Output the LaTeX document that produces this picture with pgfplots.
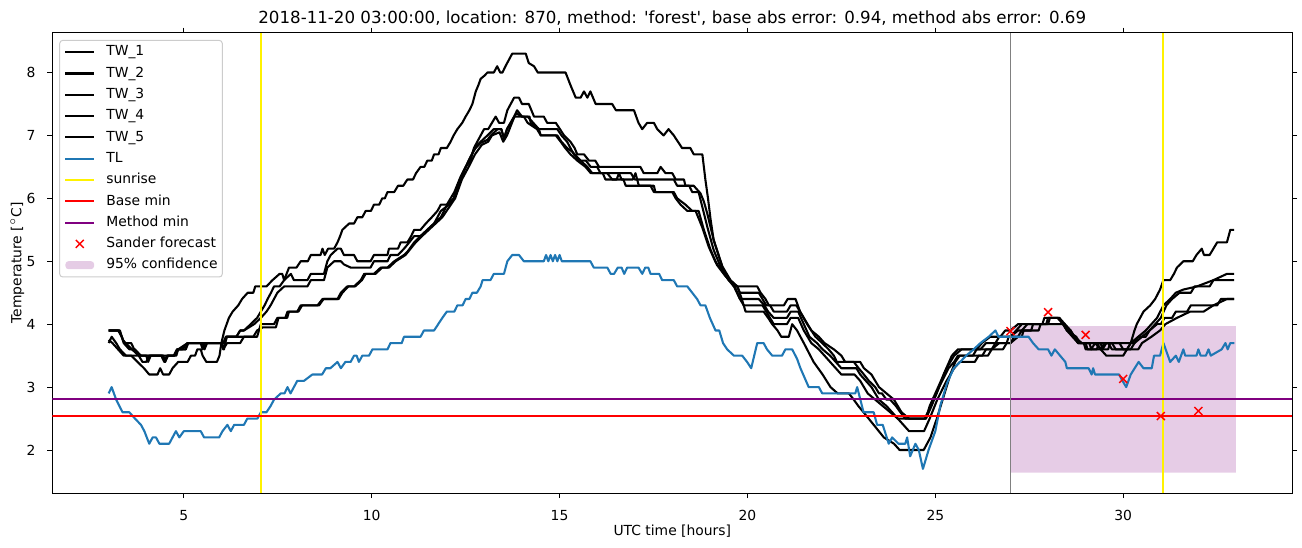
\documentclass[border=0pt]{standalone}
\usepackage{fontspec}
\setmainfont{DejaVu Sans}
\usepackage{pgfplots}
\pgfplotsset{compat=1.18}
\definecolor{tlblue}{RGB}{31,119,180}
\definecolor{mplpurple}{RGB}{128,0,128}
\definecolor{mplgray}{RGB}{128,128,128}
\definecolor{legframe}{RGB}{204,204,204}
\newcommand{\fs}{\fontsize{6.94}{8.3}\selectfont}
\pgfplotsset{conflegend/.style={legend image code/.code={\fill[##1] (0pt,-2pt) rectangle (14.3pt,2pt);}}}
\begin{document}
\begin{tikzpicture}
\begin{axis}[
  at={(0,0)}, anchor=south west,
  scale only axis, width=620pt, height=230.4pt,
  xmin=1.5, xmax=34.5, ymin=1.312, ymax=8.636,
  xtick={5,10,15,20,25,30}, ytick={2,3,4,5,6,7,8},
  tick align=outside, major tick length=2.43pt,
  every tick/.style={black, line width=0.4pt},
  axis line style={line width=0.4pt},
  /pgf/number format/assume math mode=true,
  tick label style={font=\fs},
  xticklabel style={yshift=-2.43pt},
  yticklabel style={xshift=-2.43pt},
  every axis title shift=0pt,
  title={2018-11-20 03:00:00, location: 870, method: \textquotesingle forest\textquotesingle, base abs error: 0.94, method abs error: 0.69},
  title style={font=\fontsize{8.33}{10}\selectfont, at={([yshift=7.25pt]axis description cs:0.5,1)}, anchor=center},
  xlabel={UTC time [hours]},
  ylabel={Temperature [$^\circ$C]},
  xlabel style={font=\fs, at={([yshift=-18.85pt]axis description cs:0.5,0)}, anchor=center},
  ylabel style={font=\fs, at={([xshift=-17.5pt]axis description cs:0,0.5)}, anchor=center},
  legend cell align=left,
  legend image code/.code={\draw[mark repeat=2,mark phase=2,#1] plot coordinates {(0pt,0pt) (7.15pt,0pt) (14.3pt,0pt)};},
  legend style={at={(axis description cs:0.0056,0.984)}, anchor=north west,
    draw=legframe, line width=0.5pt, rounded corners=1.5pt,
    fill=white, fill opacity=0.8, draw opacity=1, text opacity=1,
    font=\fs, inner xsep=2.35pt, inner ysep=2.5pt, row sep=3.85pt,
    nodes={inner sep=0pt, text height=5.3pt, text depth=1.5pt},
    /tikz/every odd column/.append style={column sep=5.6pt}},
  every axis plot/.append style={line join=round},
]
% confidence band (drawn first, below)
\addplot[draw=none, fill=mplpurple, fill opacity=0.2, forget plot] coordinates {(27,1.64) (33,1.64) (33,3.97) (27,3.97) (27,1.64)};

% TW_1
\addplot[black, line width=1.04pt] coordinates {
(3.0,3.7)(3.08,3.8)(3.2,3.7)(3.3,3.6)(3.46,3.5)(3.6,3.5)(3.77,3.4)(3.94,3.3)(4.08,3.2)(4.3,3.2)(4.37,3.3)(4.45,3.2)(4.61,3.2)(4.7,3.3)(4.85,3.4)(5.1,3.4)(5.19,3.5)(5.3,3.5)(5.36,3.6)(5.45,3.6)(5.5,3.5)(5.6,3.4)(5.88,3.4)(5.95,3.5)(6.0,3.7)(6.08,3.9)(6.14,4.0)(6.2,4.1)(6.3,4.2)(6.45,4.3)(6.55,4.4)(6.7,4.5)(6.85,4.5)(6.9,4.6)(7.2,4.6)(7.36,4.7)(7.55,4.8)(7.62,4.8)(7.67,4.7)(7.8,4.9)(8.0,4.9)(8.11,5.0)(8.3,5.0)(8.38,5.1)(8.64,5.1)(8.69,5.2)(8.75,5.1)(8.84,5.2)(9.0,5.2)(9.09,5.3)(9.16,5.4)(9.22,5.5)(9.4,5.6)(9.53,5.6)(9.62,5.7)(9.75,5.7)(9.84,5.8)(9.98,5.8)(10.06,5.9)(10.2,5.9)(10.28,6.0)(10.35,6.0)(10.42,6.1)(10.6,6.1)(10.7,6.2)(10.84,6.2)(10.95,6.3)(11.1,6.3)(11.18,6.4)(11.3,6.5)(11.4,6.5)(11.48,6.6)(11.6,6.6)(11.66,6.7)(11.78,6.7)(11.84,6.8)(12.0,6.8)(12.1,6.9)(12.18,7.0)(12.28,7.1)(12.41,7.2)(12.5,7.3)(12.6,7.4)(12.68,7.5)(12.77,7.7)(12.84,7.8)(12.9,7.9)(13.0,7.95)(13.08,8.0)(13.25,8.0)(13.34,8.1)(13.42,8.0)(13.48,8.0)(13.56,8.1)(13.65,8.2)(13.74,8.3)(14.1,8.3)(14.18,8.15)(14.32,8.1)(14.42,8.0)(15.16,8.0)(15.29,7.8)(15.43,7.6)(15.56,7.6)(15.65,7.7)(15.74,7.6)(15.82,7.7)(15.96,7.5)(16.4,7.5)(16.5,7.4)(16.98,7.4)(17.1,7.2)(17.2,7.1)(17.33,7.2)(17.51,7.2)(17.6,7.1)(17.77,7.0)(17.9,7.1)(18.04,7.0)(18.26,6.8)(18.48,6.8)(18.57,6.7)(18.8,6.7)(18.88,6.3)(18.95,6.0)(19.02,5.66)(19.1,5.34)(19.24,5.08)(19.37,4.84)(19.5,4.7)(19.64,4.6)
(20.26,4.6)(20.35,4.5)(20.48,4.4)(20.57,4.3)(20.97,4.3)(21.07,4.4)(21.28,4.4)(21.4,4.2)(21.59,4.0)(21.7,3.9)(21.81,3.8)(21.99,3.7)(22.16,3.6)(22.3,3.5)(22.38,3.4)(22.83,3.4)(22.96,3.3)(23.1,3.2)(23.23,3.1)(23.4,3.0)(23.5,2.9)(23.58,2.9)(23.7,2.8)(23.8,2.8)(23.95,2.7)(24.07,2.6)(24.2,2.5)(24.72,2.5)(24.8,2.6)(24.96,2.8)(25.1,3.0)(25.22,3.2)(25.44,3.5)(25.6,3.6)(26.1,3.6)(26.24,3.7)(26.46,3.8)(26.73,3.8)(26.86,3.9)
(27.0,3.9)(27.2,4.0)(27.85,4.0)(27.9,4.1)(28.3,4.1)(28.45,4.0)(28.6,3.9)(28.7,3.8)(28.9,3.7)(29.3,3.7)(29.4,3.6)(29.55,3.5)(30.0,3.5)(30.1,3.6)(30.2,3.7)(30.3,3.9)(30.36,4.0)(30.45,4.1)(30.54,4.2)(30.72,4.3)(30.85,4.4)(30.98,4.55)(31.07,4.7)(31.25,4.7)(31.35,4.8)(31.43,4.9)(31.6,5.0)(31.85,5.0)(31.95,5.1)(32.09,5.2)(32.15,5.1)(32.3,5.1)(32.4,5.2)(32.5,5.3)(32.76,5.3)(32.85,5.5)(32.95,5.5)
};
\addlegendentry{TW\_1}

% TW_2
\addplot[black, line width=1.04pt] coordinates {
(3.0,3.9)(3.3,3.9)(3.4,3.7)(3.55,3.6)(3.7,3.6)(3.85,3.5)(4.75,3.5)(4.82,3.6)(5.05,3.6)(5.1,3.7)(6.05,3.7)(6.12,3.8)(6.4,3.8)(6.5,3.9)(6.6,3.9)(6.78,4.0)(6.95,4.1)(7.05,4.2)(7.15,4.3)(7.23,4.4)(7.32,4.5)(7.4,4.6)(7.55,4.6)(7.67,4.7)(7.85,4.8)(7.93,4.7)(8.29,4.7)(8.38,4.8)(8.73,4.8)(8.82,5.0)(8.91,5.1)(9.09,5.2)(9.18,5.2)(9.26,5.1)(9.53,5.1)(9.62,5.0)(9.97,5.0)(10.06,5.1)(10.42,5.1)(10.46,5.2)(10.7,5.2)(10.77,5.3)(10.95,5.3)(11.05,5.4)(11.13,5.5)(11.3,5.5)(11.44,5.6)(11.6,5.7)(11.75,5.8)(11.84,5.9)(12.0,5.9)(12.1,6.0)(12.2,6.1)(12.37,6.35)(12.5,6.5)(12.63,6.6)(12.72,6.8)(12.81,6.9)(12.99,7.1)(13.1,7.1)(13.2,7.2)(13.3,7.3)(13.39,7.2)(13.52,7.2)(13.61,7.4)(13.79,7.6)(13.92,7.6)(14.0,7.5)(14.18,7.5)(14.32,7.3)(14.58,7.3)(14.67,7.2)(14.9,7.2)(15.12,7.0)(15.29,6.9)(15.4,6.8)(15.47,6.7)(15.65,6.7)(15.78,6.6)(15.95,6.6)(16.05,6.5)(17.15,6.5)(17.24,6.4)(17.6,6.4)(17.69,6.5)(17.82,6.4)(18.0,6.4)(18.09,6.3)(18.31,6.3)(18.35,6.2)(18.57,6.2)(18.75,6.08)(18.84,5.95)(18.93,5.76)(19.1,5.34)(19.33,4.92)(19.55,4.7)(19.73,4.6)
(19.8,4.5)(20.3,4.5)(20.4,4.4)(20.5,4.3)(20.6,4.3)(20.7,4.2)(21.05,4.2)(21.15,4.3)(21.3,4.3)(21.5,4.1)(21.7,3.9)(21.9,3.8)(22.05,3.7)(22.3,3.6)(22.5,3.5)(22.6,3.4)(23.0,3.4)(23.1,3.3)(23.3,3.2)(23.5,3.0)(23.7,2.9)(23.9,2.8)(24.1,2.6)(24.3,2.5)(24.75,2.5)(24.85,2.7)(25.0,2.9)(25.3,3.3)(25.5,3.5)(25.7,3.6)(26.2,3.6)(26.35,3.7)(26.6,3.7)(26.7,3.8)
(27.0,3.8)(27.15,3.9)(27.3,4.0)(27.95,4.0)(28.0,4.1)(28.25,4.1)(28.4,4.0)(28.55,3.9)(28.7,3.8)(28.8,3.7)(29.1,3.7)(29.15,3.6)(29.25,3.7)(29.4,3.6)(29.5,3.7)(29.7,3.7)(29.8,3.6)(30.1,3.6)(30.2,3.7)(30.4,3.8)(30.6,3.9)(30.75,4.0)(30.9,4.1)(31.07,4.3)(31.25,4.4)(31.4,4.5)(31.6,4.55)(31.96,4.6)(32.4,4.7)(32.76,4.8)(32.95,4.8)
};
\addlegendentry{TW\_2}

% TW_3
\addplot[black, line width=1.04pt] coordinates {
(3.0,3.9)(3.25,3.9)(3.35,3.8)(3.41,3.7)(3.6,3.7)(3.68,3.6)(3.86,3.5)(4.0,3.5)(4.05,3.4)(4.12,3.5)(4.45,3.5)(4.5,3.4)(4.57,3.5)(4.73,3.5)(4.82,3.6)(4.95,3.6)(5.1,3.7)(5.45,3.7)(5.5,3.6)(5.57,3.7)(6.0,3.7)(6.07,3.6)(6.12,3.8)(6.4,3.8)(6.5,3.9)(6.6,3.9)(6.87,4.0)(7.05,4.1)(7.2,4.2)(7.31,4.3)(7.4,4.4)(7.49,4.5)(7.67,4.6)(8.29,4.6)(8.38,4.7)(8.73,4.7)(8.82,4.9)(9.0,5.0)(9.18,5.0)(9.26,4.95)(9.44,4.9)(9.97,4.9)(10.06,5.0)(10.42,5.0)(10.5,5.1)(10.7,5.1)(10.86,5.2)(11.0,5.3)(11.13,5.4)(11.3,5.4)(11.48,5.5)(11.66,5.6)(11.75,5.7)(11.84,5.8)(12.06,5.9)(12.18,6.0)(12.28,6.2)(12.46,6.45)(12.63,6.66)(12.81,6.85)(13.08,7.0)(13.25,7.1)(13.45,7.1)(13.52,6.95)(13.6,7.1)(13.79,7.3)(13.87,7.4)(14.0,7.3)(14.2,7.3)(14.23,7.2)(14.45,7.1)(14.94,7.1)(15.05,7.0)(15.2,6.9)(15.38,6.7)(15.52,6.6)(15.7,6.6)(15.83,6.5)(16.0,6.5)(16.09,6.4)(16.9,6.4)(17.0,6.3)(18.04,6.3)(18.13,6.2)(18.45,6.2)(18.53,6.1)(18.7,6.1)(18.75,5.98)(18.93,5.55)(19.1,5.18)(19.28,4.92)(19.46,4.76)(19.64,4.6)
(19.8,4.4)(20.3,4.4)(20.45,4.3)(20.55,4.2)(20.7,4.1)(21.05,4.1)(21.15,4.2)(21.35,4.2)(21.5,4.0)(21.65,3.8)(21.85,3.7)(22.0,3.6)(22.2,3.5)(22.35,3.4)(22.5,3.3)(22.9,3.3)(23.0,3.2)(23.15,3.1)(23.3,3.0)(23.5,2.8)(23.7,2.7)(23.85,2.6)(24.0,2.5)(24.15,2.4)(24.3,2.3)(24.7,2.3)(24.85,2.5)(25.05,2.8)(25.3,3.1)(25.5,3.3)(25.65,3.4)(26.05,3.4)(26.15,3.5)(26.4,3.5)(26.5,3.6)(26.7,3.7)
(27.0,3.7)(27.2,3.8)(27.3,3.9)(27.45,4.0)(28.4,4.0)(28.5,3.9)(28.65,3.8)(28.8,3.7)(29.0,3.7)(29.05,3.6)(29.3,3.6)(29.35,3.7)(29.6,3.7)(29.7,3.6)(30.2,3.6)(30.3,3.7)(30.5,3.8)(30.7,3.9)(30.85,4.0)(31.0,4.1)(31.15,4.3)(31.3,4.4)(31.5,4.5)(31.8,4.5)(31.9,4.6)(32.3,4.6)(32.4,4.7)(32.95,4.7)
};
\addlegendentry{TW\_3}

% TW_4
\addplot[black, line width=1.04pt] coordinates {
(3.0,3.75)(3.1,3.7)(3.25,3.6)(3.4,3.5)(3.8,3.5)(3.9,3.4)(4.0,3.4)(4.08,3.5)(4.45,3.5)(4.5,3.4)(4.58,3.5)(4.8,3.5)(4.85,3.6)(5.1,3.7)(5.5,3.7)(5.55,3.6)(5.62,3.7)(6.0,3.7)(6.05,3.6)(6.15,3.7)(6.5,3.7)(6.6,3.8)(6.95,3.8)(7.05,4.0)(7.4,4.0)(7.49,4.1)(7.7,4.1)(7.76,4.2)(8.02,4.2)(8.11,4.3)(8.56,4.3)(8.69,4.4)(9.09,4.4)(9.18,4.5)(9.35,4.6)(9.53,4.6)(9.71,4.7)(9.8,4.8)(10.06,4.8)(10.24,4.9)(10.42,4.9)(10.6,5.0)(10.86,5.1)(10.95,5.15)(11.13,5.3)(11.3,5.4)(11.48,5.5)(11.66,5.6)(11.84,5.7)(12.01,5.9)(12.19,6.0)(12.37,6.3)(12.55,6.56)(12.72,6.77)(12.9,6.88)(13.08,6.93)(13.17,7.0)(13.35,7.1)(13.45,7.1)(13.52,6.95)(13.6,7.1)(13.75,7.25)(13.85,7.35)(14.0,7.3)(14.15,7.3)(14.3,7.2)(14.45,7.1)(14.5,7.0)(14.94,7.0)(15.05,6.9)(15.2,6.8)(15.34,6.74)(15.56,6.6)(15.74,6.5)(15.87,6.4)(16.27,6.4)(16.4,6.3)(16.52,6.3)(16.58,6.4)(16.65,6.3)(16.95,6.3)(17.02,6.4)(17.11,6.2)(17.42,6.2)(17.51,6.1)(18.04,6.1)(18.13,6.0)(18.35,5.9)(18.53,5.8)(18.62,5.8)(18.79,5.55)(18.97,5.23)(19.15,4.99)(19.33,4.84)(19.5,4.7)(19.73,4.6)
(19.85,4.4)(19.95,4.2)(20.43,4.2)(20.55,4.1)(20.66,4.0)(20.8,3.9)(20.9,3.8)(21.1,3.8)(21.19,4.0)(21.32,3.9)(21.5,3.7)(21.76,3.4)(22.0,3.2)(22.21,3.0)(22.4,2.9)(22.7,2.9)(22.83,2.8)(22.95,2.7)(23.09,2.6)(23.36,2.4)(23.63,2.2)(23.9,2.1)(24.05,2.0)(24.69,2.0)(24.87,2.2)(25.04,2.5)(25.22,2.85)(25.4,3.2)(25.53,3.4)(25.65,3.5)(26.0,3.5)(26.1,3.6)(26.5,3.6)(26.6,3.7)
(27.0,3.7)(27.1,3.8)(27.3,3.8)(27.35,3.9)(27.55,3.9)(27.6,4.0)(28.4,4.0)(28.5,3.9)(28.75,3.8)(28.85,3.7)(29.4,3.7)(29.45,3.6)(29.55,3.7)(29.9,3.7)(30.0,3.6)(30.4,3.6)(30.5,3.7)(30.75,3.8)(30.98,3.9)(31.12,4.0)(31.43,4.1)(31.78,4.2)(32.14,4.2)(32.4,4.3)(32.76,4.4)(32.95,4.4)
};
\addlegendentry{TW\_4}

% TW_5
\addplot[black, line width=1.04pt] coordinates {
(3.0,3.9)(3.28,3.9)(3.38,3.75)(3.45,3.7)(3.62,3.6)(3.8,3.5)(4.4,3.5)(4.48,3.4)(4.55,3.5)(4.75,3.5)(4.85,3.6)(5.05,3.6)(5.12,3.7)(6.1,3.7)(6.15,3.8)(6.85,3.8)(6.95,3.9)(7.1,3.95)(7.45,3.95)(7.52,4.1)(7.75,4.1)(7.8,4.2)(8.05,4.2)(8.15,4.3)(8.6,4.3)(8.72,4.4)(9.12,4.4)(9.22,4.5)(9.38,4.6)(9.56,4.6)(9.74,4.7)(9.84,4.8)(10.1,4.8)(10.28,4.9)(10.46,4.9)(10.64,5.0)(10.9,5.1)(11.17,5.3)(11.34,5.4)(11.52,5.5)(11.7,5.6)(11.88,5.7)(12.05,5.85)(12.22,6.0)(12.4,6.3)(12.58,6.5)(12.75,6.7)(12.93,6.85)(13.1,6.9)(13.2,7.0)(13.4,7.05)(13.5,6.9)(13.6,7.0)(13.8,7.3)(14.05,7.3)(14.15,7.2)(14.4,7.1)(14.5,7.0)(14.9,7.0)(15.03,6.9)(15.15,6.8)(15.29,6.7)(15.47,6.6)(15.69,6.5)(15.83,6.4)(16.15,6.4)(16.22,6.3)(16.7,6.3)(16.76,6.2)(17.51,6.2)(17.55,6.1)(18.0,6.1)(18.09,6.0)(18.22,5.9)(18.4,5.8)(18.7,5.8)(18.84,5.5)(19.02,5.18)(19.19,4.94)(19.42,4.76)(19.64,4.63)
(19.8,4.4)(19.9,4.3)(20.4,4.3)(20.5,4.2)(20.6,4.1)(20.7,4.0)(21.05,4.0)(21.15,4.1)(21.35,4.1)(21.5,3.9)(21.7,3.7)(21.9,3.6)(22.05,3.5)(22.2,3.4)(22.35,3.3)(22.5,3.2)(22.85,3.2)(23.0,3.1)(23.2,2.9)(23.4,2.8)(23.6,2.7)(23.8,2.6)(24.0,2.5)(24.75,2.5)(24.9,2.7)(25.1,3.0)(25.35,3.3)(25.5,3.4)(25.6,3.5)(26.25,3.5)(26.35,3.6)(26.8,3.6)(26.9,3.7)(26.95,3.8)
(27.0,3.8)(27.2,3.9)(27.75,3.9)(27.8,4.0)(28.0,4.0)(28.05,4.1)(28.3,4.1)(28.4,4.0)(28.6,3.9)(28.7,3.8)(28.8,3.7)(28.95,3.7)(29.0,3.6)(29.6,3.6)(29.65,3.7)(30.3,3.7)(30.4,3.8)(30.6,3.8)(30.7,3.9)(30.9,4.0)(31.0,4.0)(31.1,4.1)(31.3,4.1)(31.4,4.2)(31.7,4.2)(31.8,4.3)(32.5,4.3)(32.6,4.4)(32.95,4.4)
};
\addlegendentry{TW\_5}

% TL
\addplot[tlblue, line width=1.04pt] coordinates {
(3.0,2.9)(3.08,3.0)(3.2,2.8)(3.37,2.6)(3.55,2.6)(3.7,2.5)(3.86,2.4)(3.95,2.3)(4.08,2.1)(4.17,2.2)(4.26,2.2)(4.35,2.1)(4.61,2.1)(4.7,2.2)(4.79,2.3)(4.88,2.2)(5.0,2.3)(5.45,2.3)(5.54,2.2)(5.94,2.2)(6.03,2.3)(6.16,2.4)(6.25,2.3)(6.34,2.4)(6.6,2.4)(6.69,2.5)(6.96,2.5)(7.05,2.6)(7.2,2.6)(7.31,2.7)(7.4,2.8)(7.58,2.9)(7.68,2.9)(7.76,3.0)(7.84,2.9)(7.93,3.0)(8.02,3.1)(8.2,3.1)(8.42,3.2)(8.68,3.2)(8.78,3.3)(8.9,3.3)(9.09,3.4)(9.18,3.3)(9.3,3.4)(9.44,3.4)(9.53,3.5)(9.6,3.5)(9.66,3.4)(9.75,3.5)(9.93,3.5)(10.02,3.6)(10.42,3.6)(10.5,3.7)(10.8,3.7)(10.86,3.8)(11.3,3.8)(11.39,3.9)(11.66,3.9)(11.77,4.0)(11.88,4.1)(12.0,4.2)(12.2,4.2)(12.28,4.3)(12.42,4.3)(12.5,4.4)(12.6,4.4)(12.68,4.5)(12.8,4.5)(12.9,4.6)(12.95,4.7)(13.16,4.7)(13.25,4.8)(13.52,4.8)(13.61,5.0)(13.74,5.1)(13.92,5.1)(14.05,5.0)(14.58,5.0)(14.64,5.1)(14.7,5.0)(14.76,5.1)(14.82,5.0)(14.88,5.1)(14.94,5.0)(15.0,5.1)(15.06,5.0)(15.82,5.0)(15.91,4.9)(16.27,4.9)(16.36,4.8)(16.45,4.8)(16.55,4.9)(16.65,4.9)(16.72,4.8)(16.8,4.9)(17.1,4.9)(17.2,4.8)(17.28,4.9)(17.36,4.9)(17.42,4.8)(17.65,4.8)(17.73,4.7)(18.04,4.7)(18.13,4.6)(18.4,4.6)(18.53,4.5)(18.66,4.4)(18.75,4.3)(18.88,4.3)(19.0,4.1)(19.15,3.9)(19.25,3.9)(19.35,3.7)(19.46,3.6)(19.64,3.5)(19.86,3.5)(19.99,3.4)(20.1,3.3)(20.26,3.7)(20.43,3.7)(20.52,3.6)(20.66,3.5)(20.92,3.5)(21.01,3.6)(21.19,3.6)(21.32,3.45)(21.41,3.3)(21.63,3.0)(21.9,3.0)(21.99,2.9)(22.87,2.9)(22.92,3.0)(23.09,2.6)(23.36,2.6)(23.45,2.4)(23.6,2.4)(23.76,2.1)(23.85,2.2)(24.02,2.1)(24.2,2.1)(24.25,2.2)(24.33,1.9)(24.47,2.1)(24.56,2.0)(24.67,1.7)(24.82,2.0)(25.0,2.3)(25.13,2.7)(25.31,3.06)(25.49,3.3)(25.66,3.4)(25.82,3.5)(26.02,3.6)(26.2,3.7)(26.42,3.8)(26.6,3.9)(26.68,3.8)(27.48,3.8)(27.6,3.7)(27.75,3.6)(28.0,3.6)(28.09,3.5)(28.18,3.6)(28.32,3.5)(28.46,3.4)(28.5,3.3)(29.08,3.3)(29.16,3.2)(29.2,3.3)(29.25,3.2)(29.89,3.2)(29.98,3.1)(30.08,3.0)(30.2,3.2)(30.41,3.4)(30.54,3.3)(30.76,3.3)(30.82,3.5)(30.98,3.5)(31.07,3.7)(31.25,3.4)(31.4,3.5)(31.48,3.4)(31.6,3.6)(31.65,3.5)(31.95,3.5)(32.0,3.6)(32.06,3.5)(32.2,3.5)(32.27,3.6)(32.33,3.5)(32.62,3.6)(32.72,3.7)(32.78,3.6)(32.85,3.7)(32.96,3.7)
};
\addlegendentry{TL}

% sunrise
\addplot[yellow, line width=1.04pt] coordinates {(7.05,1.312)(7.05,8.636)};
\addlegendentry{sunrise}
\addplot[yellow, line width=1.04pt, forget plot] coordinates {(31.05,1.312)(31.05,8.636)};

% base min / method min
\addplot[red, line width=1.04pt] coordinates {(1.5,2.547)(34.5,2.547)};
\addlegendentry{Base min}
\addplot[mplpurple, line width=1.04pt] coordinates {(1.5,2.807)(34.5,2.807)};
\addlegendentry{Method min}

% forecast start
\addplot[mplgray, line width=0.9pt, forget plot] coordinates {(27,1.312)(27,8.636)};

% Sander forecast
\addplot[only marks, mark=x, mark size=2.8pt, red, mark options={line width=0.75pt}] coordinates {(27,3.89)(28,4.19)(29,3.83)(30,3.13)(31,2.54)(32,2.62)};
\addlegendentry{Sander forecast}

\addlegendimage{conflegend, fill=mplpurple, fill opacity=0.2, draw=none}
\addlegendentry{95\% confidence}
\end{axis}
\pgfresetboundingbox
\useasboundingbox (-26.15pt,-26.85pt) rectangle (624.85pt,246.65pt);
\end{tikzpicture}
\end{document}
